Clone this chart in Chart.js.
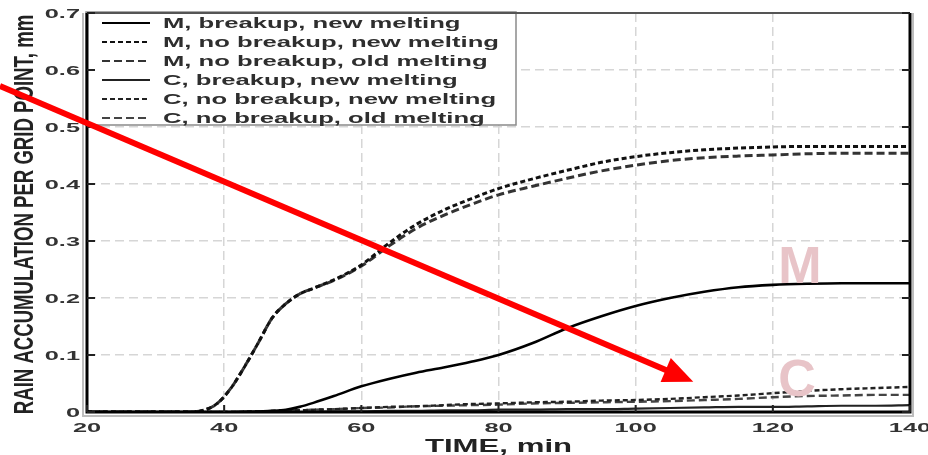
<!DOCTYPE html>
<html>
<head>
<meta charset="utf-8">
<title>Rain accumulation per grid point</title>
<script src="https://cdn.jsdelivr.net/npm/chart.js@4/dist/chart.umd.min.js"></script>
<style>
  html, body { margin: 0; padding: 0; background: #fff; }
  #wrap { width: 928px; height: 455px; }
</style>
</head>
<body>
<div id="wrap"><canvas id="chart" width="928" height="455"></canvas></div>
<script>
// =====================================
// DATA
// =====================================
const TIMES = [20, 30, 35, 37, 39, 41, 43, 45, 47, 49, 51, 53, 56, 60, 64, 68, 72, 76, 80, 85, 90, 95, 100, 105, 110, 115, 120, 125, 130, 135, 140];

const M_BREAKUP_NEW = [0, 0, 0, 0, 0, 0, 0, 0.001, 0.002, 0.004, 0.009, 0.016, 0.028, 0.045, 0.058, 0.069, 0.078, 0.088, 0.100, 0.121, 0.147, 0.168, 0.186, 0.200, 0.211, 0.219, 0.223, 0.225, 0.226, 0.226, 0.226];
const M_NOBREAK_NEW = [0, 0, 0, 0.003, 0.015, 0.042, 0.080, 0.122, 0.165, 0.190, 0.207, 0.217, 0.232, 0.258, 0.296, 0.329, 0.354, 0.374, 0.392, 0.409, 0.424, 0.438, 0.448, 0.455, 0.460, 0.463, 0.465, 0.466, 0.466, 0.466, 0.466];
const M_NOBREAK_OLD = [0, 0, 0, 0.003, 0.015, 0.042, 0.080, 0.122, 0.165, 0.190, 0.207, 0.217, 0.231, 0.256, 0.291, 0.322, 0.345, 0.364, 0.381, 0.396, 0.410, 0.423, 0.433, 0.441, 0.446, 0.449, 0.451, 0.453, 0.454, 0.454, 0.454];
const C_BREAKUP_NEW = [0, 0, 0, 0, 0, 0, 0, 0, 0, 0, 0, 0, 0.001, 0.001, 0.002, 0.002, 0.003, 0.003, 0.004, 0.004, 0.005, 0.005, 0.006, 0.007, 0.008, 0.009, 0.009, 0.010, 0.011, 0.011, 0.012];
const C_NOBREAK_NEW = [0, 0, 0, 0, 0, 0, 0.001, 0.001, 0.002, 0.003, 0.003, 0.004, 0.005, 0.007, 0.009, 0.010, 0.012, 0.014, 0.015, 0.017, 0.018, 0.020, 0.021, 0.023, 0.026, 0.029, 0.033, 0.037, 0.040, 0.042, 0.044];
const C_NOBREAK_OLD = [0, 0, 0, 0, 0, 0, 0.001, 0.001, 0.002, 0.003, 0.003, 0.004, 0.005, 0.007, 0.008, 0.010, 0.011, 0.012, 0.013, 0.015, 0.016, 0.017, 0.018, 0.019, 0.021, 0.023, 0.026, 0.028, 0.029, 0.030, 0.030];

const LABELS = [
    "M, breakup, new melting",
    "M, no breakup, new melting",
    "M, no breakup, old melting",
    "C, breakup, new melting",
    "C, no breakup, new melting",
    "C, no breakup, old melting"
];

const X_TICKS = [20, 40, 60, 80, 100, 120, 140];
const Y_TICKS = [0, 0.1, 0.2, 0.3, 0.4, 0.5, 0.6, 0.7];

const X_TITLE = "TIME, min";
const Y_TITLE = "RAIN ACCUMULATION PER GRID POINT, mm";

// overlay annotations, in data units
const ARROW_FROM = { t: 7.3, v: 0.572 };
const ARROW_TO = { t: 108.4, v: 0.053 };
const MARK_M = { text: "M", t: 120.8, v: 0.227 };
const MARK_C = { text: "C", t: 120.8, v: 0.028 };

// =====================================
// STYLE
// =====================================
const WIDE = 1.95;               // the figure's text is stretched sideways
const TEXT_FONT = "Liberation Sans, Arial, sans-serif";

function xy(data) {
    return TIMES.map((t, i) => ({ x: t, y: data[i] }));
}

function line(label, data, color, width, dash) {
    return {
        label: label,
        data: xy(data),
        borderColor: color,
        borderWidth: width,
        borderDash: dash,
        pointRadius: 0,
        fill: false,
        cubicInterpolationMode: "monotone"
    };
}

function wideText(ctx, text, x, y, sx, align) {
    ctx.save();
    ctx.translate(x, y);
    ctx.scale(sx, 1);
    ctx.textAlign = align;
    ctx.fillText(text, 0, 0);
    ctx.restore();
}

// =====================================
// PLUGIN: frame, labels, legend, marks
// =====================================
const figurePlugin = {
    id: "figure",
    afterDatasetsDraw(chart) {
        const ctx = chart.ctx;
        const xs = chart.scales.x;
        const ys = chart.scales.y;
        const a = chart.chartArea;

        ctx.save();

        // legend box (top-left inside plot)
        const lx = a.left - 1, ly = a.top - 1, lw = 430, lh = 113;
        ctx.fillStyle = "#fff";
        ctx.fillRect(lx, ly, lw, lh);
        ctx.strokeStyle = "#8a8a8a";
        ctx.lineWidth = 1.5;
        ctx.strokeRect(lx, ly, lw, lh);

        chart.data.datasets.forEach((ds, i) => {
            const yy = ly + 11 + i * 19;
            ctx.strokeStyle = ds.borderColor;
            ctx.lineWidth = Math.min(ds.borderWidth, 2.2);
            ctx.setLineDash(ds.borderDash || []);
            ctx.beginPath();
            ctx.moveTo(lx + 16, yy);
            ctx.lineTo(lx + 64, yy);
            ctx.stroke();
            ctx.setLineDash([]);

            ctx.fillStyle = "#2e2e2e";
            ctx.font = "bold 14px " + TEXT_FONT;
            ctx.textBaseline = "middle";
            wideText(ctx, ds.label, lx + 77, yy + 1, 1.83, "left");
        });

        // frame
        ctx.strokeStyle = "#bdbdbd";
        ctx.lineWidth = 2;
        ctx.beginPath();
        ctx.moveTo(a.left - 4, a.top);
        ctx.lineTo(a.left - 4, a.bottom + 4);
        ctx.lineTo(a.right + 3, a.bottom + 4);
        ctx.lineTo(a.right + 3, a.top);
        ctx.stroke();

        ctx.strokeStyle = "#000";
        ctx.lineWidth = 3;
        ctx.beginPath();
        ctx.moveTo(a.left, a.top);
        ctx.lineTo(a.left, a.bottom);
        ctx.lineTo(a.right, a.bottom);
        ctx.lineTo(a.right, a.top);
        ctx.stroke();

        ctx.strokeStyle = "#555";
        ctx.lineWidth = 2;
        ctx.beginPath();
        ctx.moveTo(a.left, a.top);
        ctx.lineTo(a.right, a.top);
        ctx.stroke();

        // inward tick marks
        ctx.strokeStyle = "#222";
        ctx.lineWidth = 2;
        ctx.beginPath();
        ys.ticks.forEach(tk => {
            const py = ys.getPixelForValue(tk.value);
            ctx.moveTo(a.left, py); ctx.lineTo(a.left + 8, py);
            ctx.moveTo(a.right, py); ctx.lineTo(a.right - 8, py);
        });
        xs.ticks.forEach(tk => {
            const px = xs.getPixelForValue(tk.value);
            ctx.moveTo(px, a.bottom); ctx.lineTo(px, a.bottom - 7);
        });
        ctx.stroke();

        // tick labels
        ctx.fillStyle = "#333";
        ctx.font = "bold 13px " + TEXT_FONT;
        ctx.textBaseline = "middle";
        ys.ticks.forEach(tk => {
            const py = ys.getPixelForValue(tk.value);
            wideText(ctx, String(+tk.value.toFixed(1)), a.left - 7, py + 1, WIDE, "right");
        });
        xs.ticks.forEach(tk => {
            const px = xs.getPixelForValue(tk.value);
            wideText(ctx, String(tk.value), px, a.bottom + 16, WIDE, "center");
        });

        // axis titles
        ctx.fillStyle = "#222";
        ctx.font = "bold 19px " + TEXT_FONT;
        ctx.textBaseline = "alphabetic";
        wideText(ctx, X_TITLE, (a.left + a.right) / 2, 452, 1.64, "center");

        ctx.save();
        ctx.translate(25, (a.top + a.bottom) / 2 + 2);
        ctx.scale(1.53, 1);
        ctx.rotate(-Math.PI / 2);
        ctx.font = "bold 18.6px " + TEXT_FONT;
        ctx.textAlign = "center";
        ctx.textBaseline = "middle";
        ctx.fillText(Y_TITLE, 0, 0);
        ctx.restore();

        // pale M / C marks
        ctx.fillStyle = "#e8c4c8";
        ctx.font = "bold 52px " + TEXT_FONT;
        ctx.textAlign = "left";
        ctx.textBaseline = "alphabetic";
        [MARK_M, MARK_C].forEach(m => {
            ctx.fillText(m.text, xs.getPixelForValue(m.t), ys.getPixelForValue(m.v));
        });

        // red arrow
        const x0 = xs.getPixelForValue(ARROW_FROM.t), y0 = ys.getPixelForValue(ARROW_FROM.v);
        const x1 = xs.getPixelForValue(ARROW_TO.t), y1 = ys.getPixelForValue(ARROW_TO.v);
        const len = Math.hypot(x1 - x0, y1 - y0);
        const ux = (x1 - x0) / len, uy = (y1 - y0) / len;
        const head = 30, half = 13;
        const bx = x1 - ux * head, by = y1 - uy * head;

        ctx.strokeStyle = "#ff0000";
        ctx.lineWidth = 6;
        ctx.beginPath();
        ctx.moveTo(x0, y0);
        ctx.lineTo(bx + ux * 4, by + uy * 4);
        ctx.stroke();

        ctx.fillStyle = "#ff0000";
        ctx.beginPath();
        ctx.moveTo(x1, y1);
        ctx.lineTo(bx - uy * half, by + ux * half);
        ctx.lineTo(bx + uy * half, by - ux * half);
        ctx.closePath();
        ctx.fill();

        ctx.restore();
    }
};

// =====================================
// CHART
// =====================================
const ctx = document.getElementById("chart").getContext("2d");

new Chart(ctx, {
    type: "line",
    data: {
        datasets: [
            line(LABELS[0], M_BREAKUP_NEW, "#000", 2.6, []),
            line(LABELS[1], M_NOBREAK_NEW, "#111", 3, [5, 3]),
            line(LABELS[2], M_NOBREAK_OLD, "#333", 3, [8, 4]),
            line(LABELS[3], C_BREAKUP_NEW, "#222", 2.2, []),
            line(LABELS[4], C_NOBREAK_NEW, "#222", 2.4, [5, 3]),
            line(LABELS[5], C_NOBREAK_OLD, "#444", 2.4, [8, 4])
        ]
    },
    options: {
        responsive: false,
        animation: false,
        layout: { padding: { left: 0, top: 13, right: 18, bottom: 0 } },
        plugins: {
            legend: { display: false },
            tooltip: { enabled: false }
        },
        scales: {
            x: {
                type: "linear",
                min: 20,
                max: 140,
                afterBuildTicks: s => { s.ticks = X_TICKS.map(v => ({ value: v })); },
                ticks: { display: false },
                grid: { color: "#d6d6d6", lineWidth: 1.5, drawTicks: false },
                border: { display: false, dash: [9, 5] },
                afterFit: s => { s.height = 43; }
            },
            y: {
                min: 0,
                max: 0.7,
                afterBuildTicks: s => { s.ticks = Y_TICKS.map(v => ({ value: v })); },
                ticks: { display: false },
                grid: { color: "#d6d6d6", lineWidth: 1.5, drawTicks: false },
                border: { display: false, dash: [9, 5] },
                afterFit: s => { s.width = 87; }
            }
        }
    },
    plugins: [figurePlugin]
});
</script>
</body>
</html>
